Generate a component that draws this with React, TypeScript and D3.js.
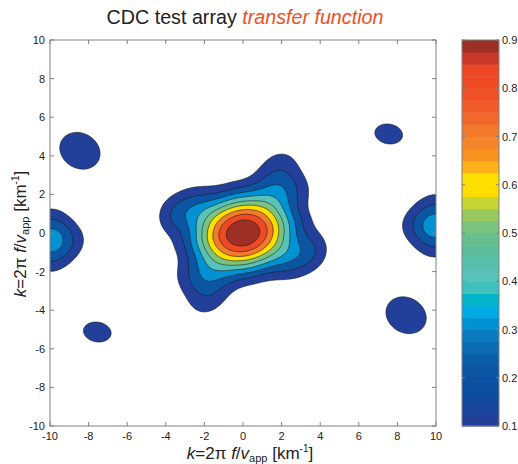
import React, { useMemo } from 'react';
import * as d3 from 'd3';

// ---- data ----
const xTicks = [-10, -8, -6, -4, -2, 0, 2, 4, 6, 8, 10];
const yTicks = [-10, -8, -6, -4, -2, 0, 2, 4, 6, 8, 10];
const cbTicks = [0.1, 0.2, 0.3, 0.4, 0.5, 0.6, 0.7, 0.8, 0.9];
const levels = [0.1, 0.2, 0.3, 0.4, 0.5, 0.6, 0.7, 0.8, 0.9];
const cbMin = 0.1;
const cbMax = 0.9;
// colormap bands from 0.1 to 0.9 (step 0.025)
const bandColors = [
  '#22409a', '#1a469e', '#0f4b9f', '#0c50a1', '#0b55a3', '#0c5ea9', '#0b6bb2', '#0a7abf',
  '#0092d3', '#00aae3', '#00b6c8', '#3fc1c0', '#58c2b8', '#56bfab', '#5cbe9a', '#66bf8c',
  '#79c37e', '#97c95e', '#c5d634', '#fddd00', '#ffdf00', '#fbb117', '#f7921f', '#f5852a',
  '#f37a2b', '#f2682b', '#f05a28', '#ef5026', '#ef4924', '#ee4723', '#c8392a', '#9e2f24',
];

// response lobes (centre, peak, widths, tilt, squareness, steepness)
const blobX = [0, 1.95, -1.95, 3.75, -3.75, -8.45, 8.45, 7.55, -7.55, -9.95, 9.95];
const blobY = [0, 3.6, -3.6, -0.8, 0.8, 4.26, -4.26, 5.13, -5.13, -0.38, 0.38];
const blobAmp = [1, 0.11, 0.11, 0.06, 0.06, 0.13, 0.13, 0.12, 0.12, 0.36, 0.36];
const blobSx = [1.93, 0.9, 0.9, 0.6, 0.6, 1.5, 1.5, 1.2, 1.2, 1.05, 1.05];
const blobSy = [1.46, 0.75, 0.75, 0.8, 0.8, 1.25, 1.25, 0.85, 0.85, 1.0, 1.0];
const blobAngle = [12, 20, 20, 0, 0, -30, -30, -10, -10, 0, 0];
const blobSquare = [0.33, 0, 0, 0, 0, 0, 0, 0, 0, -0.12, -0.12];
const blobSteep = [0.05, 0, 0, 0, 0, 0, 0, 0, 0, 0, 0];

// ---- layout ----
const W = 518;
const H = 464;
const PL = 50, PR = 436, PT = 40, PB = 426;
const CBL = 462, CBR = 499;
const FONT = '"Liberation Sans", Arial, Helvetica, sans-serif';
const AXC = '#808080';

const GMIN = -10.6, GMAX = 10.6, STEP = 0.05;

function field(x: number, y: number) {
  let s = 0;
  for (let i = 0; i < blobX.length; i++) {
    const t = (blobAngle[i] * Math.PI) / 180;
    const dx = x - blobX[i], dy = y - blobY[i];
    const u = dx * Math.cos(t) + dy * Math.sin(t);
    const v = -dx * Math.sin(t) + dy * Math.cos(t);
    const a = u / blobSx[i], b = v / blobSy[i];
    const q = a * a + b * b;
    const ab = Math.abs(a * b);
    const shape = Math.max(0, 1 + blobSquare[i] * ab * ab * (blobSquare[i] > 0 ? ab : 1));
    s += blobAmp[i] * Math.exp(-0.5 * q - blobSteep[i] * q * q) * shape;
  }
  return s;
}

function colorFor(v: number) {
  let idx = Math.floor((v - cbMin) / ((cbMax - cbMin) / bandColors.length) + 1e-6);
  idx = Math.max(0, Math.min(bandColors.length - 1, idx));
  return bandColors[idx];
}

export default function App() {
  const xs = d3.scaleLinear().domain([-10, 10]).range([PL, PR]);
  const ys = d3.scaleLinear().domain([-10, 10]).range([PB, PT]);
  const cs = d3.scaleLinear().domain([cbMin, cbMax]).range([PB, PT]);

  const contours = useMemo(() => {
    const n = Math.round((GMAX - GMIN) / STEP) + 1;
    const vals = new Array(n * n);
    for (let j = 0; j < n; j++) {
      const y = GMAX - j * STEP;
      for (let i = 0; i < n; i++) {
        const x = GMIN + i * STEP;
        vals[j * n + i] = field(x, y);
      }
    }
    const gen = d3.contours().size([n, n]).thresholds(levels);
    const polys = gen(vals);
    const gx = (g: number) => xs(GMIN + (g - 0.5) * STEP);
    const gy = (g: number) => ys(GMAX - (g - 0.5) * STEP);
    const proj = d3.geoTransform({
      point(px: number, py: number) {
        (this as any).stream.point(gx(px), gy(py));
      },
    });
    const path = d3.geoPath(proj);
    return polys.map((p) => ({ value: p.value, d: path(p as any) || '' }));
  }, []);

  const nb = bandColors.length;
  const bandH = (cbMax - cbMin) / nb;

  return (
    <svg width={W} height={H} style={{ position: 'absolute', left: 0, top: 0, background: '#fff' }} fontFamily={FONT}>
      <defs>
        <clipPath id="plotclip">
          <rect x={PL} y={PT} width={PR - PL} height={PB - PT} />
        </clipPath>
      </defs>
      {/* title */}
      <text x={245} y={24} textAnchor="middle" fontSize={19.7} fill="#222">
        CDC test array <tspan fill="#f04e23" fontStyle="italic">transfer function</tspan>
      </text>

      {/* contours */}
      <g clipPath="url(#plotclip)">
        {contours.map((c, i) => (
          <path key={i} d={c.d} fill={colorFor(c.value)} stroke="#1a1a1a" strokeWidth={0.6} />
        ))}
      </g>

      {/* axes box */}
      <rect x={PL} y={PT} width={PR - PL} height={PB - PT} fill="none" stroke={AXC} strokeWidth={1} />
      {xTicks.map((t) => (
        <g key={'x' + t}>
          <line x1={xs(t)} x2={xs(t)} y1={PB} y2={PB - 4} stroke={AXC} />
          <line x1={xs(t)} x2={xs(t)} y1={PT} y2={PT + 4} stroke={AXC} />
          <text x={xs(t)} y={440} textAnchor="middle" fontSize={11} fill="#222">{t}</text>
        </g>
      ))}
      {yTicks.map((t) => (
        <g key={'y' + t}>
          <line x1={PL} x2={PL + 4} y1={ys(t)} y2={ys(t)} stroke={AXC} />
          <line x1={PR} x2={PR - 4} y1={ys(t)} y2={ys(t)} stroke={AXC} />
          <text x={45} y={ys(t) + 4} textAnchor="end" fontSize={11} fill="#222">{t}</text>
        </g>
      ))}

      {/* x title */}
      <text x={250} y={459} textAnchor="middle" fontSize={17} fill="#222">
        <tspan fontStyle="italic">k</tspan>=2π <tspan fontStyle="italic">f</tspan>/<tspan fontStyle="italic">v</tspan>
        <tspan fontSize={11} dy={3}>app</tspan>
        <tspan dy={-3}> [km</tspan>
        <tspan fontSize={10} dy={-7}>-1</tspan>
        <tspan dy={7}>]</tspan>
      </text>
      {/* y title */}
      <text transform={`translate(26,234) rotate(-90)`} textAnchor="middle" fontSize={17} fill="#222">
        <tspan fontStyle="italic">k</tspan>=2π <tspan fontStyle="italic">f</tspan>/<tspan fontStyle="italic">v</tspan>
        <tspan fontSize={11} dy={3}>app</tspan>
        <tspan dy={-3}> [km</tspan>
        <tspan fontSize={10} dy={-7}>-1</tspan>
        <tspan dy={7}>]</tspan>
      </text>

      {/* colorbar */}
      {bandColors.map((c, i) => {
        const v0 = cbMin + i * bandH;
        const v1 = v0 + bandH;
        return <rect key={'cb' + i} x={CBL} y={cs(v1)} width={CBR - CBL} height={cs(v0) - cs(v1) + 0.5} fill={c} />;
      })}
      <rect x={CBL} y={PT} width={CBR - CBL} height={PB - PT} fill="none" stroke={AXC} strokeWidth={1} />
      {cbTicks.map((t) => (
        <g key={'c' + t}>
          <line x1={CBL} x2={CBL + 3} y1={cs(t)} y2={cs(t)} stroke={AXC} />
          <line x1={CBR} x2={CBR - 3} y1={cs(t)} y2={cs(t)} stroke={AXC} />
          <text x={502} y={cs(t) + 4} fontSize={11} fill="#222">{t.toFixed(1)}</text>
        </g>
      ))}
    </svg>
  );
}
